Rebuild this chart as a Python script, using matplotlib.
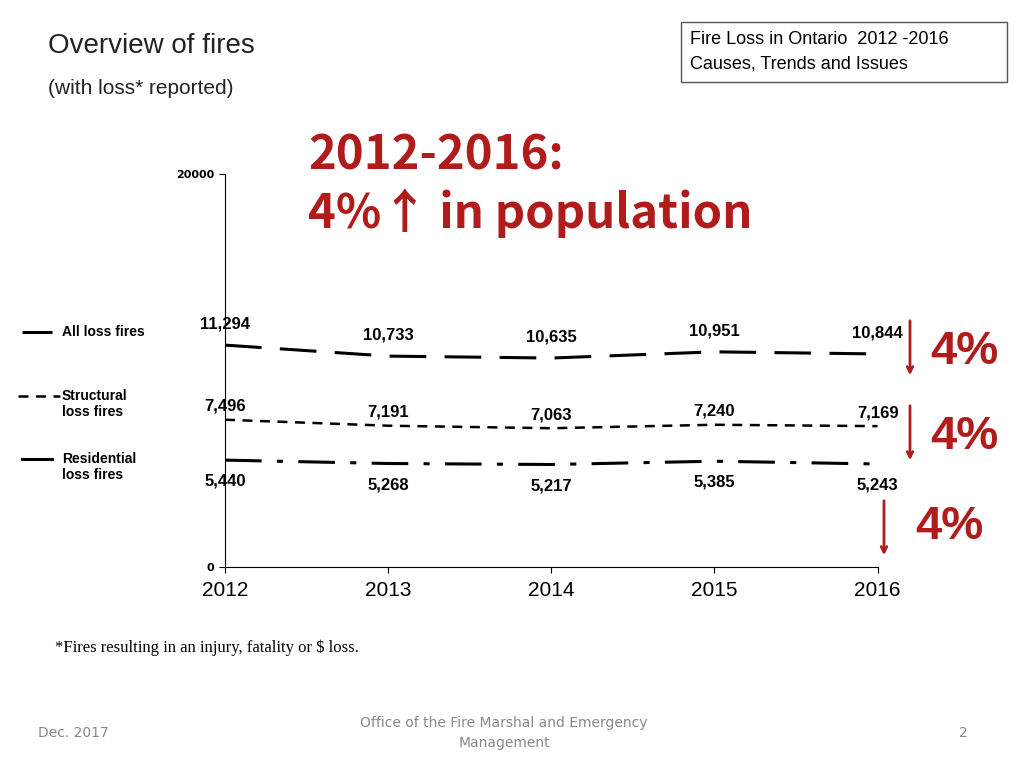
import matplotlib.pyplot as plt

YEARS = [2012, 2013, 2014, 2015, 2016]
ALL_LOSS = [11294, 10733, 10635, 10951, 10844]
STRUCTURAL = [7496, 7191, 7063, 7240, 7169]
RESIDENTIAL = [5440, 5268, 5217, 5385, 5243]

RED = "#b01c1c"

fig = plt.figure(figsize=(10.24, 7.68), dpi=100)
ax = fig.add_axes([0.2197, 0.2617, 0.6373, 0.5117])

ax.plot(YEARS, ALL_LOSS, color="black", lw=2.2, dashes=(12, 6))
ax.plot(YEARS, STRUCTURAL, color="black", lw=1.8, dashes=(4, 3))
ax.plot(YEARS, RESIDENTIAL, color="black", lw=2.2, dashes=(12, 5, 2, 5))

ax.set_xlim(2012, 2016)
ax.set_ylim(0, 20000)
ax.set_xticks(YEARS)
ax.set_xticklabels([str(y) for y in YEARS], fontsize=15, family="Liberation Sans")
ax.set_yticks([0, 20000])
ax.set_yticklabels(["0", "20000"], fontsize=8, fontweight="bold")
ax.tick_params(axis="x", length=4, pad=6)
ax.tick_params(axis="y", length=4)
for s in ["top", "right"]:
    ax.spines[s].set_visible(False)
ax.patch.set_alpha(0)

for i, y in enumerate(YEARS):
    ax.text(y, ALL_LOSS[i] + 700, f"{ALL_LOSS[i]:,}", ha="center", va="bottom",
            fontsize=12, fontweight="bold", family="Liberation Sans")
    ax.text(y, STRUCTURAL[i] + 300, f"{STRUCTURAL[i]:,}", ha="center", va="bottom",
            fontsize=12, fontweight="bold", family="Liberation Sans")
    ax.text(y, RESIDENTIAL[i] - 700, f"{RESIDENTIAL[i]:,}", ha="center", va="top",
            fontsize=12, fontweight="bold", family="Liberation Sans")

# legend and slide text
leg = fig.add_axes([0, 0, 1, 1])
leg.set_xlim(0, 1024)
leg.set_ylim(768, 0)
leg.axis("off")
leg.plot([22, 52], [332, 332], color="black", lw=2.2, dashes=(12, 6))
leg.text(62, 332, "All loss fires", fontsize=10, fontweight="bold", va="center", family="Liberation Sans")
leg.plot([18, 60], [396, 396], color="black", lw=1.8, dashes=(4, 3))
leg.text(62, 404, "Structural\nloss fires", fontsize=10, fontweight="bold", va="center",
         linespacing=1.1, family="Liberation Sans")
leg.plot([22, 52], [459, 459], color="black", lw=2.2)
leg.text(62, 467, "Residential\nloss fires", fontsize=10, fontweight="bold", va="center",
         linespacing=1.1, family="Liberation Sans")

leg.text(48, 46, "Overview of fires", fontsize=20, va="center", color="#222222", family="Liberation Sans")
leg.text(48, 89, "(with loss* reported)", fontsize=15, va="center", color="#222222", family="Liberation Sans")
leg.add_patch(plt.Rectangle((681, 22), 326, 60, fill=False, ec="#555555", lw=1))
leg.text(690, 40, "Fire Loss in Ontario  2012 -2016", fontsize=13, va="center", family="Liberation Sans")
leg.text(690, 64, "Causes, Trends and Issues", fontsize=13, va="center", family="Liberation Sans")

leg.text(308, 155, "2012-2016:", fontsize=34, color=RED, va="center", fontweight="bold", family="Noto Sans CJK JP")
leg.text(308, 213, "4%\u2191 in population", fontsize=34, color=RED, va="center", fontweight="bold", family="Noto Sans CJK JP")

for (x, y0, y1, ty, tx) in [(910, 318, 378, 352, 930), (910, 403, 463, 437, 930), (884, 498, 558, 527, 915)]:
    leg.annotate("", xy=(x, y1), xytext=(x, y0),
                 arrowprops=dict(arrowstyle="->", color=RED, lw=2))
    leg.text(tx, ty, "4%", fontsize=34, color=RED, fontweight="bold", va="center", family="Liberation Sans")

leg.text(55, 648, "*Fires resulting in an injury, fatality or $ loss.", fontsize=12,
         family="Liberation Serif", va="center")
leg.text(38, 733, "Dec. 2017", fontsize=10, color="#888888", va="center")
leg.text(504, 733, "Office of the Fire Marshal and Emergency\nManagement", fontsize=10,
         color="#888888", va="center", ha="center", linespacing=1.5)
leg.text(968, 733, "2", fontsize=10, color="#888888", va="center", ha="right")

fig.savefig("out.png", dpi=100)
